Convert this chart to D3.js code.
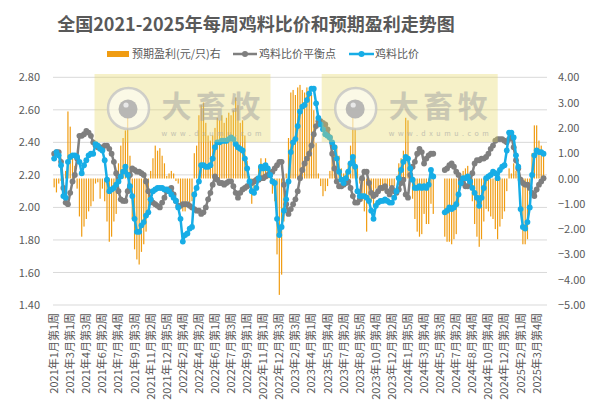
<!DOCTYPE html>
<html><head><meta charset="utf-8">
<script src="https://cdn.jsdelivr.net/npm/d3@7/dist/d3.min.js"></script>
<style>
body{margin:0;background:#fff;}
svg text{font-family:"Noto Sans CJK SC","Noto Sans",sans-serif;}
</style>
</head><body>
<svg id="chart" width="596" height="412"></svg>
<script>
const title = "全国2021-2025年每周鸡料比价和预期盈利走势图";
const seriesNames = ["预期盈利(元/只)右", "鸡料比价平衡点", "鸡料比价"];
const tickLabels = ["2021年1月第1周","2021年3月第1周","2021年4月第3周","2021年6月第2周","2021年7月第4周","2021年9月第3周","2021年11月第2周","2021年12月第5周","2022年2月第4周","2022年4月第2周","2022年6月第1周","2022年7月第3周","2022年9月第1周","2022年11月第1周","2022年12月第3周","2023年2月第3周","2023年4月第1周","2023年5月第4周","2023年7月第2周","2023年8月第5周","2023年10月第4周","2023年12月第2周","2024年1月第5周","2024年3月第4周","2024年5月第3周","2024年7月第2周","2024年8月第4周","2024年10月第4周","2024年12月第2周","2025年2月第1周","2025年3月第4周"];
const leftTicks = [1.40,1.60,1.80,2.00,2.20,2.40,2.60,2.80];
const rightTicks = [-5,-4,-3,-2,-1,0,1,2,3,4];

// 鸡料比价 (weekly)
const ratio = [
2.30,2.34,2.32,2.26,2.07,2.06,2.28,2.31,2.32,2.32,
2.31,2.28,2.21,2.26,2.29,2.32,2.33,2.33,2.39,2.38,
2.36,2.35,2.29,2.17,2.10,2.11,2.12,2.14,2.16,2.19,
2.22,2.25,2.20,2.13,2.07,1.93,1.85,1.85,1.89,1.91,
1.95,1.97,2.05,2.10,2.11,2.12,2.12,2.12,2.11,2.11,
2.10,2.08,2.06,2.04,2.00,1.93,1.79,1.83,1.84,1.87,
1.88,2.08,2.12,2.16,2.26,2.26,2.25,2.25,2.26,2.30,
2.37,2.40,2.40,2.41,2.41,2.41,2.42,2.43,2.42,2.39,
2.37,2.36,2.35,2.30,2.24,2.16,2.10,2.09,2.12,2.18,
2.25,2.24,2.26,2.24,2.20,2.16,2.15,1.93,1.83,1.88,
1.98,2.05,2.16,2.34,2.40,2.42,2.50,2.59,2.62,2.63,
2.66,2.70,2.73,2.73,2.64,2.55,2.51,2.48,2.45,2.44,
2.43,2.40,2.37,2.30,2.22,2.17,2.15,2.18,2.22,2.27,
2.31,2.25,2.10,2.07,2.07,2.07,2.06,2.04,1.98,1.93,
2.01,2.03,2.04,2.04,2.05,2.04,2.03,2.03,2.06,2.10,
2.18,2.23,2.28,2.31,2.30,2.24,2.17,2.12,2.12,2.13,
2.12,2.13,2.12,2.14,2.23,2.19,null,null,null,null,
1.97,1.98,2.00,1.99,2.00,2.02,2.08,2.15,2.18,2.18,
2.19,2.16,2.12,2.09,2.06,2.01,2.06,2.12,2.18,2.19,
2.20,2.22,2.21,2.18,2.23,2.25,2.26,2.35,2.46,2.46,
2.43,2.32,2.25,1.99,1.88,1.87,1.91,2.00,2.20,2.32,
2.35,2.34,2.34,2.33,null];

// 鸡料比价平衡点 (weekly)
const breakeven = [
2.33,2.34,2.34,2.28,2.12,2.03,2.02,2.09,2.16,2.20,
2.30,2.44,2.44,2.45,2.47,2.46,2.44,2.40,2.38,2.37,
2.37,2.36,2.38,2.38,2.36,2.33,2.28,2.21,2.10,2.05,
2.04,2.04,2.10,2.20,2.24,2.23,2.22,2.22,2.21,2.20,
2.16,2.10,2.05,2.03,2.02,2.01,2.00,2.03,2.06,2.10,
2.11,2.12,2.08,2.04,2.01,2.01,2.02,2.02,2.02,2.01,
2.00,1.99,1.98,1.98,1.96,1.97,2.00,2.05,2.09,2.14,
2.19,2.17,2.15,2.15,2.14,2.15,2.16,2.16,2.13,2.09,
2.06,2.09,2.11,2.12,2.13,2.14,2.15,2.16,2.17,2.17,
2.18,2.18,2.19,2.20,2.20,2.22,2.24,2.26,2.28,2.28,
2.14,2.02,1.96,1.99,2.02,2.05,2.10,2.18,2.23,2.27,
2.30,2.33,2.38,2.45,2.50,2.53,2.53,2.52,2.51,2.48,
2.43,2.33,2.24,2.16,2.13,2.13,2.14,2.15,2.16,2.12,
2.07,2.03,2.03,2.05,2.18,2.22,2.22,2.15,2.09,2.07,
2.08,2.10,2.12,2.12,2.13,2.10,2.08,2.12,2.10,2.09,
2.11,2.15,2.17,2.08,2.06,2.20,2.25,2.28,2.33,2.36,
2.34,2.27,2.30,2.32,2.33,2.33,null,null,null,null,
2.23,2.24,2.26,2.27,2.25,2.22,2.20,2.17,2.15,2.13,
2.13,2.16,2.21,2.27,2.29,2.29,2.30,2.30,2.31,2.33,
2.36,2.38,2.41,2.42,2.42,2.42,2.41,2.40,2.42,2.44,
2.37,2.29,2.24,2.17,2.15,2.14,2.14,2.12,2.09,2.07,
2.11,2.14,2.16,2.18,null];

// 预期盈利 (元/只), right axis
const profit = [
-0.35,-0.55,-0.20,-0.10,-0.50,0.30,2.65,2.05,0.80,0.50,
-0.40,-1.50,-2.30,-1.90,-1.60,-1.30,-1.10,-0.90,-0.20,-0.15,
-0.80,-0.40,-0.90,-1.70,-2.50,-2.30,-1.70,-1.40,0.60,1.30,
1.60,1.90,2.40,0.90,-1.60,-2.80,-3.20,-3.40,-2.90,-2.60,
-2.10,-1.40,0.30,0.80,1.30,1.10,1.20,0.90,0.60,0.10,
0.20,0.30,0.20,-0.10,-0.20,-1.20,-1.30,-1.30,-0.90,-1.00,
-0.90,1.00,1.30,2.50,2.90,3.00,2.20,1.70,1.50,1.70,
2.00,2.40,2.30,2.50,2.20,2.40,2.60,2.50,2.70,3.20,
2.90,2.20,2.30,1.70,0.70,0.10,-1.00,-0.60,0.10,0.50,
0.80,0.60,0.80,0.50,0.10,-0.60,-0.90,-3.00,-4.60,-3.80,
-1.70,0.20,1.60,3.40,3.50,3.30,3.60,3.70,3.50,3.40,
3.60,3.50,3.30,2.70,1.40,0.20,-0.30,-0.70,-0.50,-0.30,
0.30,1.00,1.40,1.30,0.90,0.40,0.20,0.30,0.60,1.30,
2.40,2.00,0.50,-0.20,-0.90,-1.30,-2.10,-1.00,-0.90,-1.10,
-0.40,-0.40,-0.50,-0.50,-0.40,-0.40,-0.30,-0.40,-0.30,0.10,
0.60,0.80,1.10,2.40,2.30,0.40,-0.80,-1.60,-2.10,-2.30,
-2.20,-1.40,-1.80,-1.80,-1.00,-1.40,null,null,null,null,
-2.30,-2.50,-2.50,-2.60,-2.40,-2.20,-1.10,-0.20,0.30,0.40,
0.50,0.00,-0.90,-1.80,-2.30,-2.70,-2.40,-1.70,-1.20,-1.30,
-1.50,-1.60,-2.00,-2.40,-1.90,-1.60,-1.30,-0.50,0.40,0.20,
0.60,0.30,0.10,-0.20,-2.60,-2.60,-2.40,-1.20,1.00,2.10,
2.10,1.50,1.30,1.00,null];

const TICK_STEP = 7;
const COL_BAR = "#f09c12", COL_GRAY = "#7f7f7f", COL_BLUE = "#17ade6", TXT = "#595959";

const svg = d3.select("#chart");
const W = 596, H = 412;
const plot = {l:53, r:547, t:77.3, b:305};

const idx = d3.range(ratio.length);
const x = d3.scaleBand().domain(idx).range([plot.l, plot.r]).padding(0);
const cx = i => x(i) + x.bandwidth()/2;
const yL = d3.scaleLinear().domain([1.4, 2.8]).range([plot.b, plot.t]);
const yR = d3.scaleLinear().domain([-5, 4]).range([plot.b, plot.t]);

// title
svg.append("text").attr("x", 256).attr("y", 31).attr("text-anchor","middle")
  .attr("font-size", 18).attr("font-weight","bold").attr("fill", TXT).text(title);

// gridlines
svg.append("g").selectAll("line").data(leftTicks).join("line")
  .attr("x1", plot.l).attr("x2", plot.r)
  .attr("y1", d => yL(d)).attr("y2", d => yL(d))
  .attr("stroke", "#d9d9d9").attr("stroke-width", 1);

// left axis
const gL = svg.append("g").attr("transform", `translate(${plot.l - 13},0)`)
  .call(d3.axisLeft(yL).tickValues(leftTicks).tickFormat(d3.format(".2f")).tickSize(0).tickPadding(0));
gL.select(".domain").remove();
gL.selectAll("text").attr("fill", TXT).attr("font-size", 11);

// right axis
const gR = svg.append("g").attr("transform", `translate(${plot.r + 11},0)`)
  .call(d3.axisRight(yR).tickValues(rightTicks).tickFormat(d3.format(".2f")).tickSize(0).tickPadding(0));
gR.select(".domain").remove();
gR.selectAll("text").attr("fill", TXT).attr("font-size", 11);

// bottom axis
const tickIdx = tickLabels.map((_, k) => k * TICK_STEP);
const gB = svg.append("g").attr("transform", `translate(0,${plot.b})`)
  .call(d3.axisBottom(x).tickValues(tickIdx).tickFormat(i => tickLabels[i / TICK_STEP]).tickSize(0));
gB.select(".domain").remove();
gB.selectAll("text").attr("fill", TXT).attr("font-size", 11)
  .attr("transform","rotate(-90)").attr("text-anchor","end")
  .attr("x", -8).attr("y", 0).attr("dy","0.36em");

// bars
const bw = 1.2;
svg.append("g").selectAll("rect").data(idx.filter(i => profit[i] != null)).join("rect")
  .attr("x", i => cx(i) - bw/2).attr("width", bw)
  .attr("y", i => yR(Math.max(0, profit[i])))
  .attr("height", i => Math.abs(yR(profit[i]) - yR(0)))
  .attr("fill", COL_BAR);

function drawLine(data, color){
  const g = svg.append("g");
  const line = d3.line().defined(i => data[i] != null).x(cx).y(i => yL(data[i]));
  g.append("path").datum(idx).attr("d", line).attr("fill","none")
    .attr("stroke", color).attr("stroke-width", 2.5).attr("stroke-linejoin","round");
  g.selectAll("circle").data(idx.filter(i => data[i] != null)).join("circle")
    .attr("cx", cx).attr("cy", i => yL(data[i])).attr("r", 2.9).attr("fill", color);
}
drawLine(breakeven, COL_GRAY);
drawLine(ratio, COL_BLUE);

// watermarks
function watermark(x0, y0){
  const g = svg.append("g");
  g.append("rect").attr("x", x0).attr("y", y0).attr("width", 176).attr("height", 68)
    .attr("fill", "#e5d762").attr("opacity", 0.35);
  g.append("circle").attr("cx", x0+34).attr("cy", y0+34.5).attr("r", 20.5)
    .attr("fill", "#ffffff").attr("fill-opacity", 0.55).attr("stroke", "#c4c4c4").attr("stroke-width", 2.5).attr("stroke-opacity",0.8);
  g.append("circle").attr("cx", x0+33.5).attr("cy", y0+35).attr("r", 9.5).attr("fill", "#ababab").attr("opacity",0.85);
  g.append("circle").attr("cx", x0+31.5).attr("cy", y0+31).attr("r", 2.6).attr("fill", "#e8e8e8");
  g.append("text").attr("x", x0+67).attr("y", y0+43).attr("font-size", 30).attr("font-weight","bold")
    .attr("fill", "#a0a0a0").attr("opacity", 0.5).attr("textLength", 99).text("大畜牧");
  g.append("text").attr("x", x0+67).attr("y", y0+62).attr("font-size", 7)
    .attr("fill", "#a0a0a0").attr("opacity", 0.6).attr("textLength", 100).text("www.dxumu.com");
}
watermark(94.5, 74);
watermark(321.7, 74);

// legend
const ly = 54;
const lg = svg.append("g");
lg.append("rect").attr("x", 107).attr("y", ly-3).attr("width", 22).attr("height", 6).attr("fill", COL_BAR);
lg.append("text").attr("x", 132).attr("y", ly).attr("dy","0.35em").attr("font-size", 11).attr("fill", TXT).text(seriesNames[0]);
lg.append("line").attr("x1", 233).attr("x2", 257).attr("y1", ly).attr("y2", ly).attr("stroke", COL_GRAY).attr("stroke-width", 2.5);
lg.append("circle").attr("cx", 245).attr("cy", ly).attr("r", 3).attr("fill", COL_GRAY);
lg.append("text").attr("x", 259).attr("y", ly).attr("dy","0.35em").attr("font-size", 11).attr("fill", TXT).text(seriesNames[1]);
lg.append("line").attr("x1", 349).attr("x2", 374).attr("y1", ly).attr("y2", ly).attr("stroke", COL_BLUE).attr("stroke-width", 2.5);
lg.append("circle").attr("cx", 361.5).attr("cy", ly).attr("r", 3).attr("fill", COL_BLUE);
lg.append("text").attr("x", 375).attr("y", ly).attr("dy","0.35em").attr("font-size", 11).attr("fill", TXT).text(seriesNames[2]);
</script>
</body></html>
